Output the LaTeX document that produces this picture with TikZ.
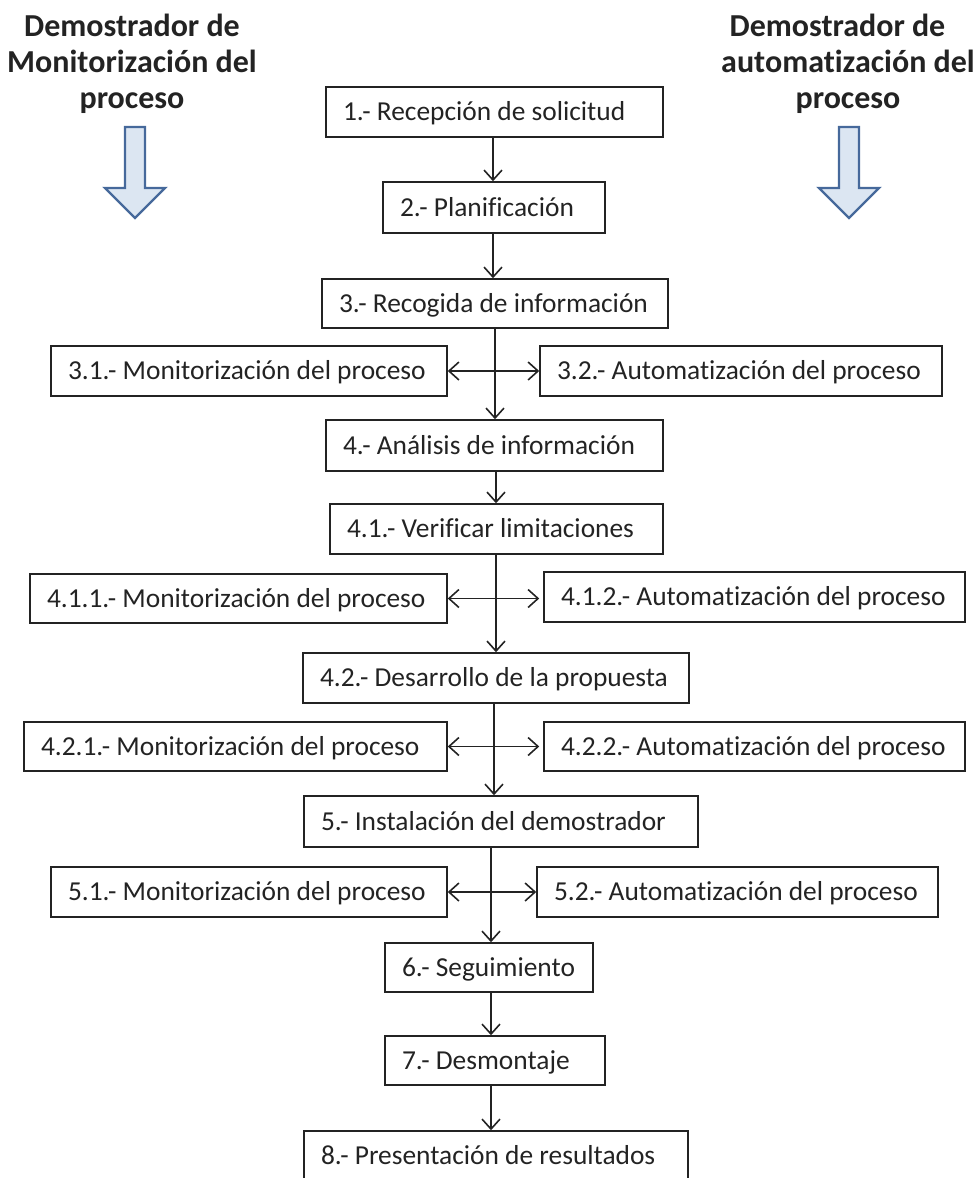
\documentclass[tikz,border=0pt]{standalone}
\usepackage{fontspec}
\setmainfont{Carlito}[Ligatures=NoCommon]
\usetikzlibrary{arrows.meta}
\definecolor{barrowfill}{RGB}{220,230,242}
\definecolor{barrowline}{RGB}{70,105,155}
\definecolor{ink}{RGB}{35,35,35}
\newcommand\lbx[2]{\makebox[#1pt][l]{#2}}
\tikzset{myv/.tip={Straight Barb[length=10pt,width=18pt]}}
\begin{document}
\begin{tikzpicture}[x=1pt,y=-1pt,
  box/.style={draw=ink, line width=1.5pt, inner xsep=17pt, inner ysep=0pt,
    text height=17.5pt, text depth=0pt, font=\fontsize{27.4}{32}\selectfont,
    text=ink, anchor=center},
  conn/.style={draw=ink, line width=1.6pt, -myv},
  both/.style={draw=ink, line width=1.6pt, myv-myv},
  head/.style={font=\bfseries\fontsize{32}{36}\selectfont, align=center,
    anchor=north, inner sep=0pt, text=ink},
  blockarrow/.style={draw=barrowline, fill=barrowfill, line width=2.3pt, line join=miter}
]
\useasboundingbox (0,0) rectangle (978,1178);

% headings
\node[head] (hl) at (132,14) {Demostrador de\\Monitorización del\\proceso};
\node[head] (hr) at (848,14) {Demostrador de\hspace*{21pt}\\automatización del\\proceso};

% block arrows
\draw[blockarrow] (125,127) -- (145,127) -- (145,188) -- (165,188) -- (135,218)
  -- (105,188) -- (125,188) -- cycle;
\draw[blockarrow] (839,127) -- (859,127) -- (859,188) -- (879,188) -- (849,218)
  -- (819,188) -- (839,188) -- cycle;

% main column
\node[box, minimum width=337pt, minimum height=50pt] (b1) at (494.5,112) {\lbx{303}{1.- Recepción de solicitud}};
\node[box, minimum width=222pt, minimum height=51pt] (b2) at (494,207.5) {\lbx{188}{2.- Planificación}};
\node[box, minimum width=346pt, minimum height=49pt] (b3) at (495,303.5) {\lbx{312}{3.- Recogida de información}};
\node[box, minimum width=396pt, minimum height=50pt] (b31) at (249,371) {\lbx{362}{3.1.- Monitorización del proceso}};
\node[box, minimum width=402pt, minimum height=50pt] (b32) at (741,371) {\lbx{368}{3.2.- Automatización del proceso}};
\node[box, minimum width=337pt, minimum height=51pt] (b4) at (494.5,445.5) {\lbx{303}{4.- Análisis de información}};
\node[box, minimum width=333pt, minimum height=50pt] (b41) at (496.5,529) {\lbx{299}{4.1.- Verificar limitaciones}};
\node[box, minimum width=417pt, minimum height=49pt] (b411) at (238.5,598.5) {\lbx{383}{4.1.1.- Monitorización del proceso}};
\node[box, minimum width=421pt, minimum height=50pt] (b412) at (754.5,597) {\lbx{387}{4.1.2.- Automatización del proceso}};
\node[box, minimum width=386pt, minimum height=50pt] (b42) at (496,678) {\lbx{352}{4.2.- Desarrollo de la propuesta}};
\node[box, minimum width=423pt, minimum height=49pt] (b421) at (235.5,746.5) {\lbx{389}{4.2.1.- Monitorización del proceso}};
\node[box, minimum width=421pt, minimum height=49pt] (b422) at (754.5,746.5) {\lbx{387}{4.2.2.- Automatización del proceso}};
\node[box, minimum width=394pt, minimum height=51pt] (b5) at (501,821.5) {\lbx{360}{5.- Instalación del demostrador}};
\node[box, minimum width=396pt, minimum height=50pt] (b51) at (249,892) {\lbx{362}{5.1.- Monitorización del proceso}};
\node[box, minimum width=401pt, minimum height=50pt] (b52) at (737.5,892) {\lbx{367}{5.2.- Automatización del proceso}};
\node[box, minimum width=208pt, minimum height=49pt] (b6) at (489,967.5) {\lbx{174}{6.- Seguimiento}};
\node[box, minimum width=220pt, minimum height=49pt] (b7) at (495,1060.5) {\lbx{186}{7.- Desmontaje}};
\node[box, minimum width=384pt, minimum height=50pt] (b8) at (496,1156) {\lbx{350}{8.- Presentación de resultados}};

% axis coordinates
\coordinate (axA) at (493,0);
\coordinate (axB) at (495,0);
\coordinate (axC) at (496,0);
\coordinate (axD) at (494,0);
\coordinate (axE) at (491,0);

% vertical connectors
\draw[conn] (b1.south -| axA) -- (b2.north -| axA);
\draw[conn] (b2.south -| axA) -- (b3.north -| axA);
\draw[conn] (b3.south -| axB) -- (b4.north -| axB);
\draw[conn] (b4.south -| axC) -- (b41.north -| axC);
\draw[conn] (b41.south -| axC) -- (b42.north -| axC);
\draw[conn] (b42.south -| axD) -- (b5.north -| axD);
\draw[conn] (b5.south -| axE) -- (b6.north -| axE);
\draw[conn] (b6.south -| axE) -- (b7.north -| axE);
\draw[conn] (b7.south -| axE) -- (b8.north -| axE);

% horizontal double arrows
\draw[both] (b31.east) -- (b31.east -| b32.west);
\draw[both] (b411.east) -- ([xshift=-4pt]b411.east -| b412.west);
\draw[both] (b421.east) -- ([xshift=-4pt]b421.east -| b422.west);
\draw[both] (b51.east) -- (b51.east -| b52.west);
\end{tikzpicture}
\end{document}
